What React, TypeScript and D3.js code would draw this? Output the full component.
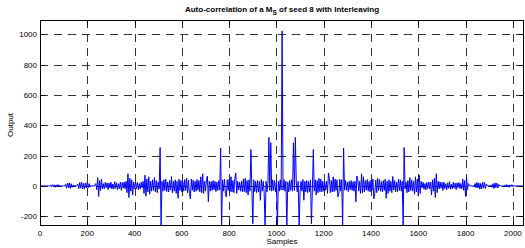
import React, { useEffect, useRef } from "react";
import * as d3 from "d3";

// tick values of the two axes
const xTicks = [0, 200, 400, 600, 800, 1000, 1200, 1400, 1600, 1800, 2000];
const yTicks = [-200, 0, 200, 400, 600, 800, 1000];

// left half of the autocorrelation, one value every 4 lags starting at lag 0
// (the right half is the same read backwards, the function being symmetric)
const lagStep = 4;
const peakValue = 1023;
const leftHalf = [
  0, 0, 0, 0, 0, 0, 0, 0,
  0, 0, 0, 4, -6, 8, -5, 7,
  -9, 6, -4, 9, -7, 5, -3, 1,
  -2, 2, -1, 10, -15, 18, -12, 20,
  -17, 14, -10, 6, -3, 4, -2, 3,
  12, -18, 22, -15, 25, -20, 16, -22,
  19, -14, 24, -12, 15, -8, 3, -5,
  4, -3, 5, 15, -25, 55, -70, 35,
  -30, 45, -20, 15, -18, 22, -12, 20,
  -25, 18, -15, 24, -20, 12, -22, 28,
  -16, 20, -26, 14, -18, 25, -30, 22,
  -15, 26, -20, 30, -45, 80, -77, 50,
  -35, 40, -60, 25, -20, 26, -18, 22,
  -26, 15, -22, 24, -12, 30, -50, 70,
  -68, 45, -40, 60, -55, 30, -35, 40,
  -30, 55, -40, 35, -45, 25, -20, 253,
  -275, 30, -35, 40, -30, 44, -38, 25,
  -40, 35, -28, 62, -45, 30, -35, 40,
  -50, 30, -82, 44, -30, 35, -40, 28,
  -35, 42, -30, 50, -45, 38, -50, -86,
  45, -30, 38, -40, 30, -35, 42, -28,
  35, -40, 60, -45, 80, -50, 30, -35,
  40, 65, -105, 30, -35, 28, -30, 35,
  -25, 30, -38, 25, -30, 35, -28, 250,
  -275, 40, -35, 44, -50, -73, 40, -30,
  45, -38, 60, -40, 35, -45, 50, 85,
  -50, 30, -28, 25, -35, 30, -40, 44,
  -38, 50, -45, 35, -60, 40, -35, 240,
  -20, -250, 40, -38, 30, -45, 35, -40,
  30, -95, 42, -35, 30, -40, -275, 30,
  -40, 20, 320, -30, 285, -35, 40, -30,
  35, -40, 25, -275, 30, -35, 40, -28,
];

const App = () => {
  const svgRef = useRef<SVGSVGElement>(null);

  useEffect(() => {
    const svg = d3.select(svgRef.current);
    svg.selectAll("*").remove();

    const width = 525;
    const height = 248;
    const left = 40;
    const right = 524;
    const top = 20;
    const bottom = 226;
    const font = "'Liberation Sans', Arial, Helvetica, sans-serif";

    svg.attr("width", width).attr("height", height);

    const x = d3.scaleLinear().domain([0, 2047]).range([left, right]);
    const y = d3.scaleLinear().domain([-265, 1095]).range([bottom, top]);

    // assemble the full series from the left half and its mirror
    const center = leftHalf.length * lagStep;
    const points: [number, number][] = leftHalf.map((v, i) => [i * lagStep, v]);
    points.push([center, peakValue]);
    for (let i = leftHalf.length - 1; i >= 0; i--) {
      points.push([2 * center - i * lagStep, leftHalf[i]]);
    }

    svg
      .append("rect")
      .attr("width", width)
      .attr("height", height)
      .attr("fill", "#fff");

    svg
      .append("clipPath")
      .attr("id", "plot-clip")
      .append("rect")
      .attr("x", left)
      .attr("y", top)
      .attr("width", right - left)
      .attr("height", bottom - top);

    // dashed grid
    const grid = svg.append("g").attr("stroke", "#333").attr("stroke-width", 1).attr("stroke-dasharray", "8,6");
    xTicks.forEach((t) => {
      const px = Math.round(x(t)) + 0.5;
      grid.append("line").attr("x1", px).attr("x2", px).attr("y1", top).attr("y2", bottom);
    });
    yTicks.forEach((t) => {
      const py = Math.round(y(t)) + 0.5;
      grid.append("line").attr("x1", left).attr("x2", right).attr("y1", py).attr("y2", py);
    });

    // the series
    const line = d3
      .line<[number, number]>()
      .x((d) => x(d[0]))
      .y((d) => y(d[1]));

    svg
      .append("path")
      .datum(points)
      .attr("clip-path", "url(#plot-clip)")
      .attr("fill", "none")
      .attr("stroke", "#0000ff")
      .attr("stroke-width", 1)
      .attr("d", line);

    // frame and inward ticks
    const frame = svg.append("g").attr("stroke", "#000").attr("stroke-width", 1).attr("fill", "none");
    frame
      .append("rect")
      .attr("x", left + 0.5)
      .attr("y", top + 0.5)
      .attr("width", right - left - 1)
      .attr("height", bottom - top - 1);

    const tickLen = 5;
    xTicks.forEach((t) => {
      const px = Math.round(x(t)) + 0.5;
      frame.append("line").attr("x1", px).attr("x2", px).attr("y1", bottom).attr("y2", bottom - tickLen);
      frame.append("line").attr("x1", px).attr("x2", px).attr("y1", top).attr("y2", top + tickLen);
    });
    yTicks.forEach((t) => {
      const py = Math.round(y(t)) + 0.5;
      frame.append("line").attr("x1", left).attr("x2", left + tickLen).attr("y1", py).attr("y2", py);
      frame.append("line").attr("x1", right).attr("x2", right - tickLen).attr("y1", py).attr("y2", py);
    });

    // tick labels
    svg
      .append("g")
      .selectAll("text")
      .data(xTicks)
      .enter()
      .append("text")
      .attr("x", (d) => x(d))
      .attr("y", bottom + 10)
      .attr("text-anchor", "middle")
      .style("font-family", font)
      .style("font-size", "8px")
      .text((d) => d);

    svg
      .append("g")
      .selectAll("text")
      .data(yTicks)
      .enter()
      .append("text")
      .attr("x", left - 3)
      .attr("y", (d) => y(d) + 3)
      .attr("text-anchor", "end")
      .style("font-family", font)
      .style("font-size", "8px")
      .text((d) => d);

    // axis labels
    svg
      .append("text")
      .attr("x", (left + right) / 2)
      .attr("y", 244)
      .attr("text-anchor", "middle")
      .style("font-family", font)
      .style("font-size", "8px")
      .text("Samples");

    svg
      .append("text")
      .attr("transform", "translate(13, 125) rotate(-90)")
      .attr("text-anchor", "middle")
      .style("font-family", font)
      .style("font-size", "8px")
      .text("Output");

    // title with subscript
    const title = svg
      .append("text")
      .attr("x", (left + right) / 2)
      .attr("y", 12)
      .attr("text-anchor", "middle")
      .style("font-family", font)
      .style("font-size", "8px")
      .style("font-weight", "bold");
    title.append("tspan").text("Auto-correlation of a M");
    title.append("tspan").attr("dy", 3).style("font-size", "6.5px").text("S");
    title.append("tspan").attr("dy", -3).text(" of seed 8 with Interleaving");
  }, []);

  return <svg ref={svgRef} style={{ position: "absolute", left: 0, top: 0, display: "block" }} />;
};

export default App;
